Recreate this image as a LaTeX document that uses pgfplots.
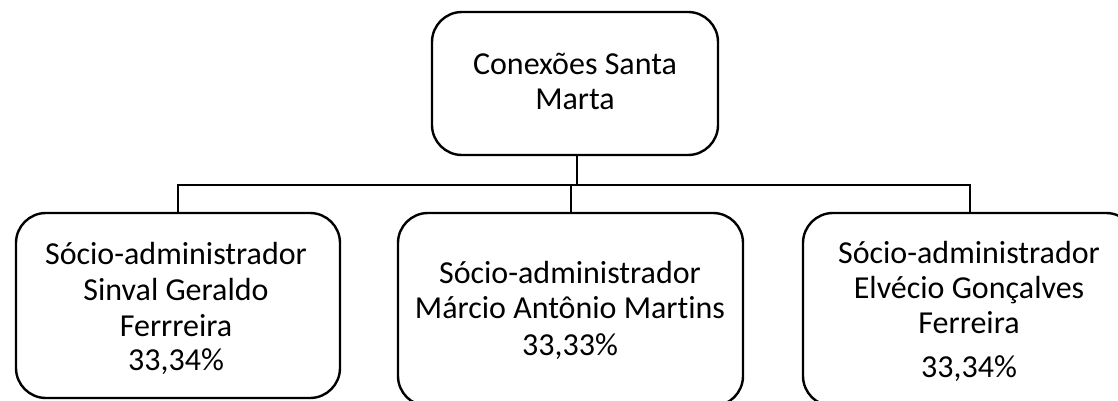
\documentclass[border=0pt]{standalone}
\usepackage{pgfplots}
\pgfplotsset{compat=1.18}
\usepackage{fontspec}
\setmainfont{Carlito}[Ligatures={NoCommon}]
\begin{document}
\begin{tikzpicture}
\begin{axis}[
  width=559pt, height=200.5pt, scale only axis,
  xmin=0, xmax=1118, ymin=0, ymax=401, y dir=reverse,
  hide axis, clip=true,
]
% connectors
\addplot[black, line width=1pt, sharp plot, no markers] coordinates {(577,155) (577,185)};
\addplot[black, line width=1pt, sharp plot, no markers] coordinates {(178,213) (178,185) (970,185) (970,213)};
\addplot[black, line width=1pt, sharp plot, no markers] coordinates {(571,185) (571,213)};
% boxes
\addplot[black, line width=1.2pt, sharp plot, no markers, rounded corners=15pt] coordinates {(575,12) (718,12) (718,155) (432,155) (432,12) (576,12)};
\addplot[black, line width=1.2pt, sharp plot, no markers, rounded corners=15pt] coordinates {(178,213) (340,213) (340,398) (16,398) (16,213) (179,213)};
\addplot[black, line width=1.2pt, sharp plot, no markers, rounded corners=15pt] coordinates {(570,213) (743,213) (743,406) (398,406) (398,213) (571,213)};
\addplot[black, line width=1.2pt, sharp plot, no markers, rounded corners=15pt] coordinates {(969,213) (1136,213) (1136,406) (803,406) (803,213) (970,213)};
% texts
\tikzset{lbl/.style={anchor=base, inner sep=0pt, font=\fontsize{16pt}{18pt}\selectfont}}
\node[lbl] at (axis cs:575,75) {Conexões Santa};
\node[lbl] at (axis cs:575,110) {Marta};
\node[lbl] at (axis cs:176,264) {Sócio-administrador};
\node[lbl] at (axis cs:176,300) {Sinval Geraldo};
\node[lbl] at (axis cs:176,336) {Ferrreira};
\node[lbl] at (axis cs:176,370) {33,34\%};
\node[lbl] at (axis cs:570,283) {Sócio-administrador};
\node[lbl] at (axis cs:570,318) {Márcio Antônio Martins};
\node[lbl] at (axis cs:570,355) {33,33\%};
\node[lbl] at (axis cs:969,263) {Sócio-administrador};
\node[lbl] at (axis cs:969,298) {Elvécio Gonçalves};
\node[lbl] at (axis cs:969,333) {Ferreira};
\node[lbl] at (axis cs:969,377) {33,34\%};
\end{axis}
\pgfresetboundingbox
\useasboundingbox (current axis.south west) rectangle (current axis.north east);
\end{tikzpicture}
\end{document}
